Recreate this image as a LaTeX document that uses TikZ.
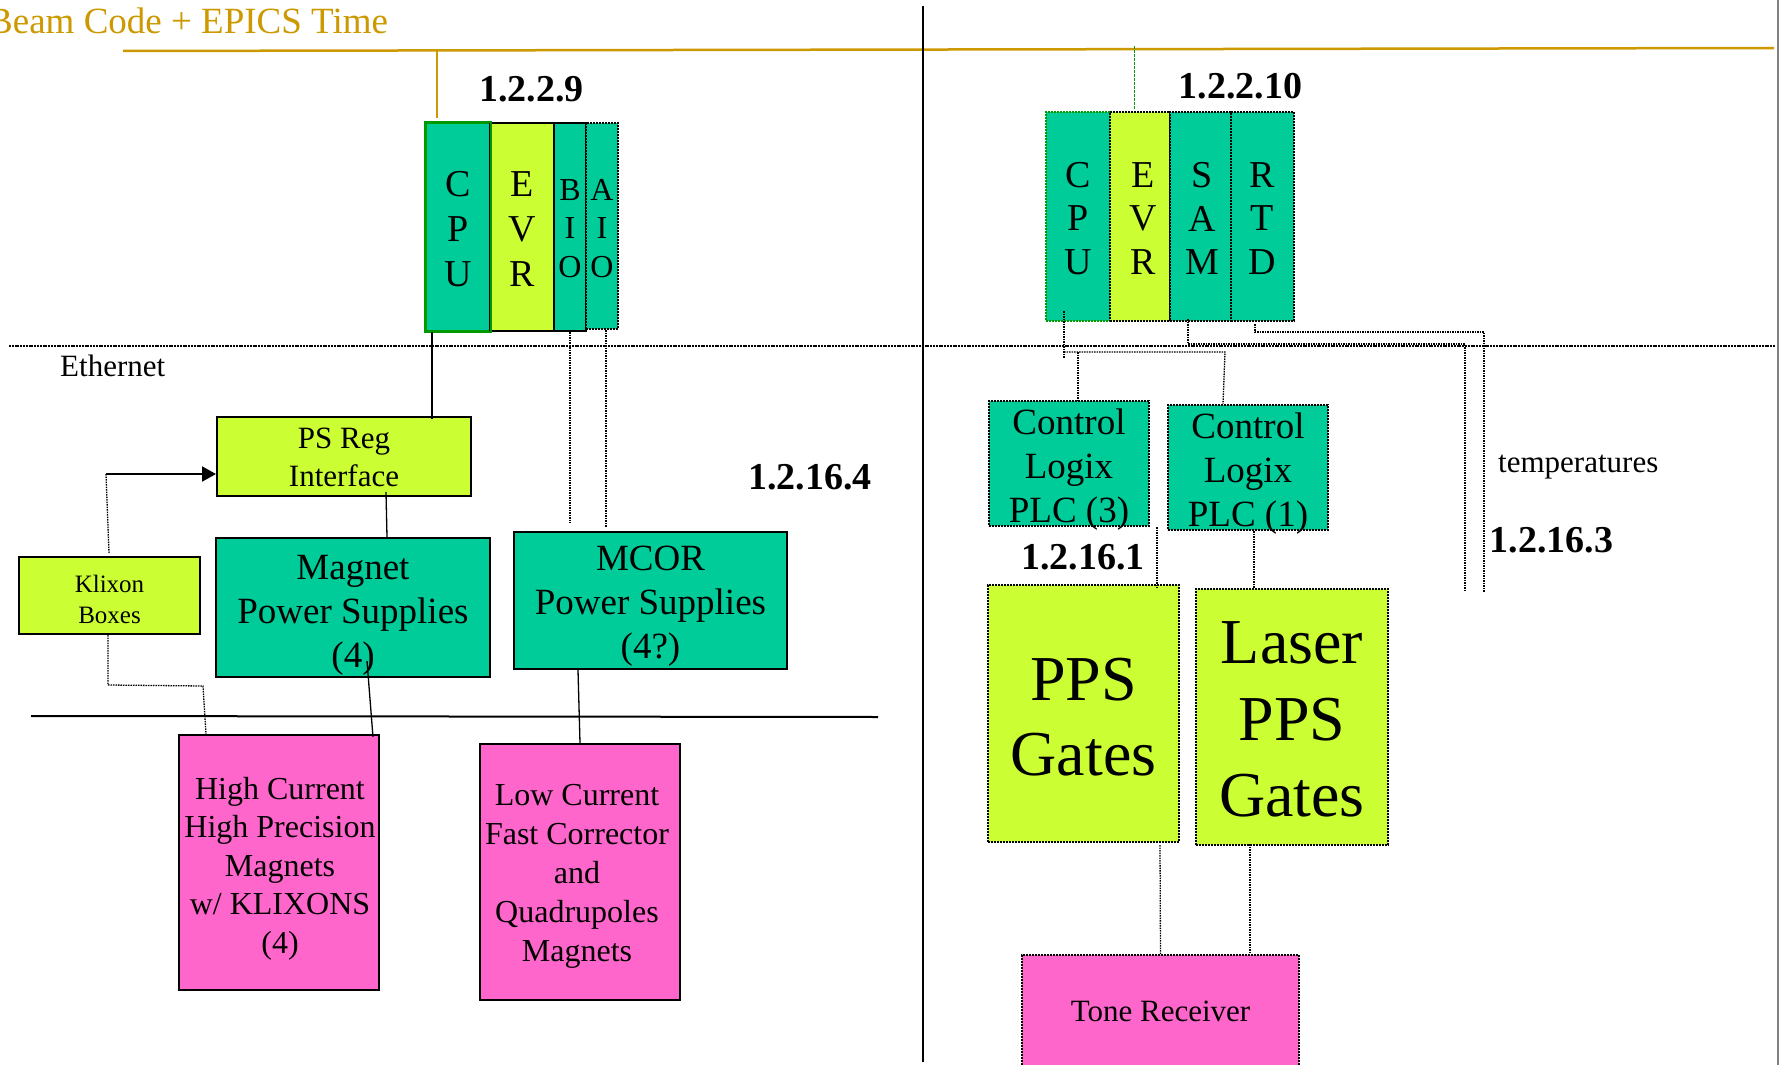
\documentclass[tikz,border=0pt]{standalone}
\usepackage{fontspec}
\setmainfont{Liberation Serif}
\usetikzlibrary{arrows.meta}
\definecolor{teal1}{HTML}{00CC99}
\definecolor{yg}{HTML}{CCFF33}
\definecolor{pk}{HTML}{FF66CC}
\definecolor{gold}{HTML}{CC9900}
\definecolor{grn}{HTML}{009900}
\newcommand{\fsz}[2]{\fontsize{#1}{#2}\selectfont}
\begin{document}
\begin{tikzpicture}[x=1pt,y=-1pt,
  sbox/.style={draw=black,line width=2pt,inner sep=0pt,align=center},
  dbox/.style={draw=black,line width=2pt,dash pattern=on 2pt off 1pt,inner sep=0pt,align=center},
  bt/.style={align=center,inner sep=0pt,black},
  dl/.style={line width=1.3pt,dash pattern=on 1.5pt off 1pt},
  sl/.style={line width=1.3pt},
  lab/.style={font=\bfseries\fsz{38}{40},inner sep=0pt}]
\useasboundingbox (0,0) rectangle (1781,1065);
\fill[white] (0,0) rectangle (1781,1065);

% title and buses
\node[gold,font=\fsz{37}{40},anchor=base west,inner sep=0pt] (title) at (-12,34) {Beam Code + EPICS Time};
\coordinate (g1) at (123,51); \coordinate (g2) at (1774,48);
\draw[gold,line width=2.5pt] (g1) -- (g2);
\coordinate (d1) at (923,6); \coordinate (d2) at (923,1062);
\draw[line width=2pt] (d1) -- (d2);
\coordinate (r1) at (1778,0); \coordinate (r2) at (1778,1065);
\draw[gray,line width=2pt] (r1) -- (r2);
\coordinate (e1) at (9,346); \coordinate (e2) at (1775,346);
\draw[line width=2.5pt,dash pattern=on 2pt off 0.8pt] (e1) -- (e2);
\coordinate (s1) at (31,716); \coordinate (s2) at (878,717);
\draw[line width=2pt] (s1) -- (s2);
\node[font=\fsz{31}{36},anchor=base west,inner sep=0pt] (eth) at (60,376) {Ethernet};

% rack 1.2.2.9
\node[sbox,draw=grn,fill=teal1,minimum width=64pt,minimum height=208pt,
  label={[bt,font=\fsz{38}{45},yshift=-2pt]center:{C\\P\\U}}] (cpu1) at (458,227) {};
\node[sbox,fill=yg,minimum width=64pt,minimum height=208pt,
  label={[bt,font=\fsz{38}{45},yshift=-2pt]center:{E\\V\\R}}] (evr1) at (522,227) {};
\node[sbox,fill=teal1,minimum width=32pt,minimum height=208pt,
  label={[bt,font=\fsz{32}{38.5},yshift=-1.5pt]center:{B\\I\\O}}] (bio1) at (570,227) {};
\node[dbox,fill=teal1,minimum width=32pt,minimum height=206pt,
  label={[bt,font=\fsz{32}{38.5},yshift=-2.5pt]center:{A\\I\\O}}] (aio1) at (602,226) {};
\draw[sbox,draw=grn,fill=none] (cpu1.north west) rectangle (cpu1.south east);
\node[lab] (l1) at (531.5,89) {1.2.2.9};

% rack 1.2.2.10
\node[dbox,draw=grn,fill=teal1,minimum width=64pt,minimum height=209pt,
  label={[bt,font=\fsz{38}{43.5},yshift=-2pt]center:{C\\P\\U}}] (cpu2) at (1078,216.5) {};
\node[dbox,fill=yg,minimum width=60pt,minimum height=209pt,
  label={[bt,font=\fsz{38}{43.5},yshift=-2pt,xshift=3pt]center:{E\\V\\R}}] (evr2) at (1140,216.5) {};
\node[dbox,fill=teal1,minimum width=61pt,minimum height=209pt,
  label={[bt,font=\fsz{38}{43.5},yshift=-2pt,xshift=2pt]center:{S\\A\\M}}] (sam2) at (1200.5,216.5) {};
\node[dbox,fill=teal1,minimum width=63pt,minimum height=209pt,
  label={[bt,font=\fsz{38}{43.5},yshift=-2pt]center:{R\\T\\D}}] (rtd2) at (1262.5,216.5) {};
\node[lab] (l2) at (1240.5,86) {1.2.2.10};

% left boxes
\node[sbox,fill=yg,minimum width=254pt,minimum height=79pt,
  label={[bt,font=\fsz{31}{38},yshift=-1pt]center:{PS Reg\\Interface}}] (psreg) at (344,456.5) {};
\node[sbox,fill=teal1,minimum width=274pt,minimum height=139pt,
  label={[bt,font=\fsz{37}{44},yshift=-8pt]center:{Magnet\\Power Supplies\\(4)}}] (mag) at (353,607.5) {};
\node[sbox,fill=teal1,minimum width=273pt,minimum height=137pt,
  label={[bt,font=\fsz{37}{44},yshift=-6pt]center:{MCOR\\Power Supplies\\(4?)}}] (mcor) at (650.5,600.5) {};
\node[sbox,fill=yg,minimum width=181pt,minimum height=77pt,
  label={[bt,font=\fsz{25}{31},yshift=-3.5pt]center:{Klixon\\Boxes}}] (klix) at (109.5,595.5) {};
\node[sbox,fill=pk,minimum width=200pt,minimum height=255pt,
  label={[bt,font=\fsz{32}{38.5},yshift=-6pt,xshift=1pt]center:{High Current\\High Precision\\Magnets\\w/ KLIXONS\\(4)}}] (high) at (279,862.5) {};
\node[sbox,fill=pk,minimum width=200pt,minimum height=256pt,
  label={[bt,font=\fsz{32}{39},yshift=-4.5pt,xshift=-3pt]center:{Low Current\\Fast Corrector\\and\\Quadrupoles\\Magnets}}] (low) at (580,872) {};
\node[lab] (l3) at (810,477) {1.2.16.4};

% right boxes
\node[dbox,fill=teal1,minimum width=160pt,minimum height=125pt,
  label={[bt,font=\fsz{37}{44},yshift=-6pt]center:{Control\\Logix\\PLC (3)}}] (plc3) at (1069,463.5) {};
\node[dbox,fill=teal1,minimum width=160pt,minimum height=125pt,
  label={[bt,font=\fsz{37}{44},yshift=-6pt]center:{Control\\Logix\\PLC (1)}}] (plc1) at (1248,467.5) {};
\node[dbox,fill=yg,minimum width=191pt,minimum height=257pt,
  label={[bt,font=\fsz{64}{75},yshift=-3.5pt]center:{PPS\\Gates}}] (pps) at (1083.5,713.5) {};
\node[dbox,fill=yg,minimum width=192pt,minimum height=256pt,
  label={[bt,font=\fsz{64}{76.5},yshift=-2.5pt]center:{Laser\\PPS\\Gates}}] (laser) at (1292,717) {};
\node[dbox,fill=pk,minimum width=277pt,minimum height=112pt,
  label={[bt,font=\fsz{31}{36}]center:{Tone Receiver}}] (tone) at (1160.5,1011) {};
\node[lab] (l4) at (1083,557) {1.2.16.1};
\node[lab] (l5) at (1551.5,540) {1.2.16.3};
\node[font=\fsz{31}{36},anchor=base west,inner sep=0pt] (temp) at (1498,472) {temperatures};

% connectors left
\coordinate (gt) at (437,50);
\draw[gold,line width=1.5pt] (gt) -- ([xshift=-21pt,yshift=4pt]cpu1.north);
\draw[sl] ([xshift=-26pt]cpu1.south) -- ([xshift=88pt,yshift=-3pt]psreg.north);
\draw[dl] (bio1.south) -- ([xshift=-80.5pt,yshift=8pt]mcor.north);
\draw[dl] ([xshift=4pt]aio1.south) -- ([xshift=-44.5pt,yshift=4pt]mcor.north);
\draw[sl] ([xshift=42pt,yshift=5pt]psreg.south) -- ([xshift=34pt]mag.north);
\draw[sl] ([xshift=14pt,yshift=17pt]mag.south) -- ([xshift=94pt,yshift=-3pt]high.north);
\draw[sl] ([xshift=-72.5pt]mcor.south) -- (low.north);
\coordinate (kb) at (106,474);
\draw[dl] ([xshift=-0.5pt,yshift=3pt]klix.north) -- (kb);
\draw[line width=2pt,-{Triangle[length=14pt,width=15pt]}] (kb) -- (psreg.west |- kb);
\coordinate (kc) at (203,686);
\draw[dl] ([xshift=-1.5pt]klix.south) -- ++(0,50) -- (kc) -- ([xshift=-73pt]high.north);

% connectors right
\coordinate (gg) at (1134,46);
\draw[grn,line width=1pt,dash pattern=on 3pt off 1pt] (gg) -- ([xshift=-6pt,yshift=2pt]evr2.north);
\coordinate (b2) at (1064,352); \coordinate (b3) at (1225,352);
\draw[dl] ([xshift=-14pt,yshift=11pt]cpu2.south) -- ++(0,47);
\draw[dl] (b2) -- (b3) -- ([xshift=-25pt]plc1.north);
\coordinate (p3t) at ([xshift=9pt]plc3.north);
\draw[dl] (p3t |- b2) -- (p3t);
\coordinate (sb) at (1465,344); \coordinate (se) at (1465,591);
\draw[dl] ([xshift=-12.5pt,yshift=3pt]sam2.south) |- (sb) -- (se);
\coordinate (rb) at (1484,332); \coordinate (re) at (1484,592);
\draw[dl] ([xshift=-7.5pt,yshift=-2pt]rtd2.south) |- (rb) -- (re);
\draw[dl] ([xshift=88pt]plc3.south) -- ([xshift=73.5pt,yshift=-4pt]pps.north);
\draw[dl] ([xshift=6pt]plc1.south) -- ([xshift=-38pt]laser.north);
\draw[dl] ([xshift=76.5pt,yshift=-2pt]pps.south) -- (tone.north);
\draw[dl] ([xshift=-42pt,yshift=2pt]laser.south) -- ([xshift=89.5pt]tone.north);
\end{tikzpicture}
\end{document}
